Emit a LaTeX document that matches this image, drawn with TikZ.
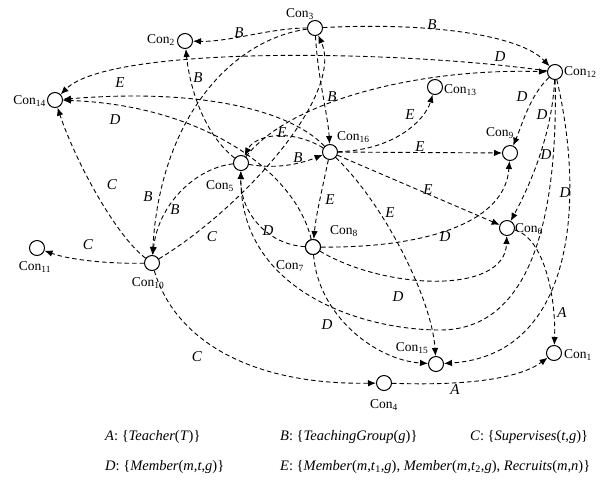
\documentclass[tikz,border=0pt]{standalone}
\usepackage{fontspec}
\setmainfont{Liberation Serif}
\usetikzlibrary{arrows.meta}
\begin{document}
\begin{tikzpicture}[x=1pt,y=-1pt,
  cn/.style={circle,draw,line width=1pt,minimum size=15pt,inner sep=0pt,fill=white},
  lb/.style={font=\fontsize{13.5}{13.5}\selectfont,inner sep=0pt},
  el/.style={font=\fontsize{15}{15}\selectfont\itshape,inner sep=0pt},
  ed/.style={draw,dash pattern=on 4.5pt off 3pt,line width=0.9pt,-{Latex[length=8pt,width=6.5pt]}},
  lg/.style={font=\fontsize{14.5}{14.5}\selectfont,anchor=west,inner sep=0pt}]
\useasboundingbox (0,0) rectangle (600,480);
% nodes
\node[cn] (c1) at (554,353) {};
\node[cn] (c2) at (185,41) {};
\node[cn] (c3) at (315,28) {};
\node[cn] (c4) at (384,383) {};
\node[cn] (c5) at (241,163) {};
\node[cn] (c6) at (507,228) {};
\node[cn] (c7) at (313,247) {};
\node[cn] (c8) at (313,247) {};
\node[cn] (c9) at (510,153) {};
\node[cn] (c10) at (152,263) {};
\node[cn] (c11) at (37,248) {};
\node[cn] (c12) at (555,72) {};
\node[cn] (c13) at (435,87) {};
\node[cn] (c14) at (55,100) {};
\node[cn] (c15) at (436,364) {};
\node[cn] (c16) at (330,152) {};
% node labels
\node[lb,anchor=west] (t1) at (564,355) {Con\textsubscript{1}};
\node[lb,anchor=east] (t2) at (175,40) {Con\textsubscript{2}};
\node[lb] (t3) at (300,14) {Con\textsubscript{3}};
\node[lb] (t4) at (384,405) {Con\textsubscript{4}};
\node[lb] (t5) at (220,186) {Con\textsubscript{5}};
\node[lb,anchor=west] (t6) at (515,229) {Con\textsubscript{6}};
\node[lb] (t7) at (290,266) {Con\textsubscript{7}};
\node[lb,anchor=west] (t8) at (330,231) {Con\textsubscript{8}};
\node[lb] (t9) at (500,133) {Con\textsubscript{9}};
\node[lb] (t10) at (148,283) {Con\textsubscript{10}};
\node[lb] (t11) at (35,267) {Con\textsubscript{11}};
\node[lb,anchor=west] (t12) at (564,72) {Con\textsubscript{12}};
\node[lb,anchor=west] (t13) at (444,90) {Con\textsubscript{13}};
\node[lb,anchor=east] (t14) at (46,101) {Con\textsubscript{14}};
\node[lb] (t15) at (412,348) {Con\textsubscript{15}};
\node[lb,anchor=west] (t16) at (337,137) {Con\textsubscript{16}};
% A edges
\path[ed] (c4) .. controls (470,386) and (520,378) .. (c1);
\path[ed] (c6) .. controls (545,238) and (556,300) .. (c1);
% B edges
\path[ed] (c3) .. controls (270,28) and (230,42) .. (c2);
\path[ed] (c3) .. controls (430,22) and (520,35) .. (c12);
\path[ed] (c5) .. controls (205,135) and (190,90) .. (c2);
\path[ed] (c3) .. controls (230,40) and (160,120) .. (c10);
\path[ed] (c5) .. controls (195,168) and (158,205) .. (c10);
\path[ed] (c5) .. controls (280,170) and (305,162) .. (c16);
\path[ed] (c3) .. controls (318,80) and (328,115) .. (c16);
% C edges
\path[ed] (c10) .. controls (115,235) and (75,160) .. (c14);
\path[ed] (c10) .. controls (110,264) and (70,260) .. (c11);
\path[ed] (c10) .. controls (240,210) and (345,95) .. (c3);
\path[ed] (c10) .. controls (175,340) and (250,385) .. (c4);
% D edges
\path[ed] (c12) .. controls (400,50) and (110,45) .. (c14);
\path[ed] (c5) .. controls (290,100) and (420,68) .. (c12);
\path[ed] (c8) .. controls (295,170) and (200,105) .. (c14);
\path[ed] (c7) .. controls (270,245) and (240,215) .. (c5);
\path[ed] (c7) .. controls (420,248) and (505,225) .. (c9);
\path[ed] (c7) .. controls (385,290) and (505,295) .. (c6);
\path[ed] (c7) .. controls (318,315) and (375,360) .. (c15);
\path[ed] (c12) .. controls (530,95) and (522,125) .. (c9);
\path[ed] (c12) .. controls (552,135) and (530,185) .. (c6);
\path[ed] (c12) .. controls (558,220) and (530,330) .. (440,330) .. controls (360,330) and (240,290) .. (c5);
\path[ed] (c12) .. controls (585,200) and (575,355) .. (c15);
% E edges
\path[ed] (c16) .. controls (290,128) and (255,135) .. (c5);
\path[ed] (c16) .. controls (395,150) and (425,120) .. (c13);
\path[ed] (c16) -- (c9);
\path[ed] (c16) -- (c6);
\path[ed] (c16) .. controls (385,205) and (432,300) .. (c15);
\path[ed] (c16) .. controls (322,190) and (316,215) .. (c8);
\path[ed] (c16) .. controls (290,110) and (200,88) .. (c14);
% edge labels
\node[el] (la1) at (455,390) {A};
\node[el] (la2) at (562,313) {A};
\node[el] (lb1) at (239,33) {B};
\node[el] (lb2) at (432,25) {B};
\node[el] (lb3) at (198,78) {B};
\node[el] (lb4) at (148,197) {B};
\node[el] (lb5) at (175,210) {B};
\node[el] (lb6) at (298,158) {B};
\node[el] (lb7) at (332,97) {B};
\node[el] (lc1) at (112,185) {C};
\node[el] (lc2) at (88,245) {C};
\node[el] (lc3) at (212,237) {C};
\node[el] (lc4) at (197,357) {C};
\node[el] (ld1) at (500,57) {D};
\node[el] (ld2) at (115,120) {D};
\node[el] (ld3) at (268,231) {D};
\node[el] (ld4) at (445,237) {D};
\node[el] (ld5) at (398,297) {D};
\node[el] (ld6) at (327,325) {D};
\node[el] (ld7) at (522,97) {D};
\node[el] (ld8) at (542,115) {D};
\node[el] (ld9) at (546,155) {D};
\node[el] (ld10) at (565,193) {D};
\node[el] (le1) at (120,83) {E};
\node[el] (le2) at (282,133) {E};
\node[el] (le3) at (410,115) {E};
\node[el] (le4) at (420,147) {E};
\node[el] (le5) at (428,190) {E};
\node[el] (le6) at (390,213) {E};
\node[el] (le7) at (330,200) {E};
% legend
\node[lg] (gA) at (105,437) {\textit{A}: \{\textit{Teacher}(\textit{T})\}};
\node[lg] (gB) at (280,437) {\textit{B}: \{\textit{TeachingGroup}(\textit{g})\}};
\node[lg] (gC) at (470,437) {\textit{C}: \{\textit{Supervises}(\textit{t},\textit{g})\}};
\node[lg] (gD) at (105,467) {\textit{D}: \{\textit{Member}(\textit{m},\textit{t},\textit{g})\}};
\node[lg] (gE) at (280,467) {\textit{E}: \{\textit{Member}(\textit{m},\textit{t}\textsubscript{1},\textit{g}), \textit{Member}(\textit{m},\textit{t}\textsubscript{2},\textit{g}), \textit{Recruits}(\textit{m},\textit{n})\}};
\end{tikzpicture}
\end{document}
